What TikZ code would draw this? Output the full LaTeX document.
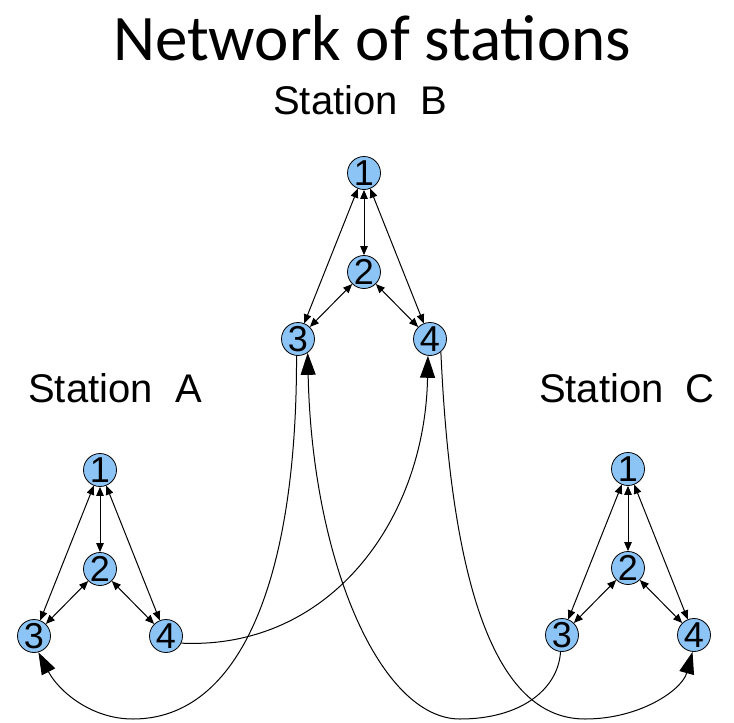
\documentclass[tikz,border=0pt]{standalone}
\usepackage{fontspec}
\setmainfont{Liberation Sans}
\newfontfamily\titlefont{Carlito}
\usetikzlibrary{arrows.meta}
\definecolor{nodeblue}{RGB}{140,196,246}
\tikzset{
  stn/.style={circle, draw=black, line width=0.8pt, fill=nodeblue, minimum size=33pt, inner sep=0pt, font=\fontsize{36}{36}\selectfont},
  biarrow/.style={{Triangle[length=9pt,width=7.5pt]}-{Triangle[length=9pt,width=7.5pt]}, line width=1pt},
  bigarrow/.style={-{Triangle[length=22pt,width=15pt]}, line width=1pt},
  lbl/.style={anchor=base, font=\fontsize{40}{40}\selectfont},
}
\begin{document}
\begin{tikzpicture}[x=1pt,y=-1pt]
\useasboundingbox (0,0) rectangle (734,723);
\node[anchor=base, font=\titlefont\fontsize{65}{65}\selectfont] (title) at (372,60) {Network of stations};
\node[lbl] (labB) at (360,114) {Station\ \ B};
\node[lbl] (labA) at (115,402) {Station\ \ A};
\node[lbl] (labC) at (627,402) {Station\ \ C};
% Station nodes
\foreach \s/\x/\y in {A/100/470, B/364/173, C/628/469} {
  \node[stn] (\s1) at (\x,\y) {1};
  \node[stn] (\s2) at (\x,\y+99) {2};
  \node[stn] (\s3) at (\x-66,\y+166) {3};
  \node[stn] (\s4) at (\x+66,\y+166) {4};
  \draw[biarrow] (\s1) -- (\s2);
  \draw[biarrow] (\s1) -- (\s3);
  \draw[biarrow] (\s1) -- (\s4);
  \draw[biarrow] (\s2) -- (\s3);
  \draw[biarrow] (\s2) -- (\s4);
}
% inter-station connectors
\coordinate (botA) at (133,719);
\coordinate (botM) at (460,719);
\coordinate (botC) at (585,719);
\draw[bigarrow] (B3.-95) .. controls (297,580) and (240,719) .. (botA)
  .. controls (90,719) and (58,690) .. (A3.-75);
\draw[bigarrow] (C3.-95) .. controls (558,690) and (520,719) .. (botM)
  .. controls (380,719) and (312,560) .. (B3.-55);
\draw[bigarrow] (A4.-25) .. controls (330,650) and (425,520) .. (B4.-97);
\draw[bigarrow] (B4.-50) .. controls (452,600) and (500,719) .. (botC)
  .. controls (640,719) and (682,690) .. (C4.-95);
\end{tikzpicture}
\end{document}
